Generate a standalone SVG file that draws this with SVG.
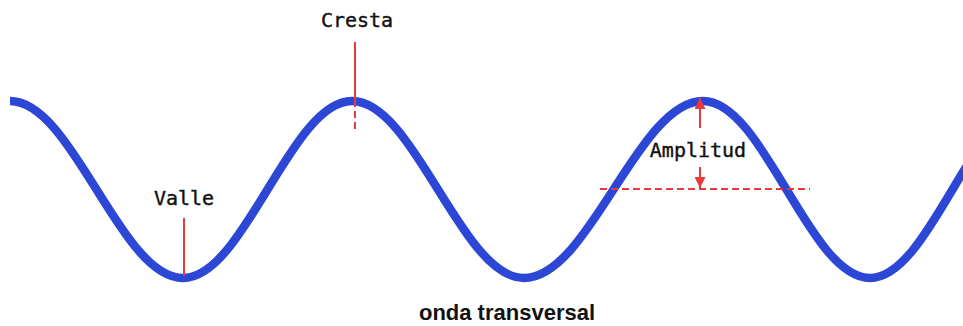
<svg xmlns="http://www.w3.org/2000/svg" width="963" height="326" viewBox="0 0 963 326">
<style>
.lbl{font-family:"DejaVu Sans Mono","Liberation Mono",monospace;font-size:20px;fill:#111;stroke:#111;stroke-width:0.4;text-anchor:middle}
.red{stroke:#e83a3a;stroke-width:2;fill:none}
.dash{stroke-dasharray:7 4}
.title{font-family:"Liberation Sans",Arial,sans-serif;font-weight:bold;font-size:22px;fill:#111;text-anchor:middle}
</style>
<defs>
<marker id="ah" viewBox="0 0 10 10" refX="10" refY="5" markerWidth="6" markerHeight="5.5" orient="auto-start-reverse" markerUnits="strokeWidth">
<path d="M0,0 L10,5 L0,10 z" fill="#e83a3a"/>
</marker>
</defs>
<rect width="963" height="326" fill="#fff"/>
<g id="wave">
<path d="M10,101 C72.9,101 120.1,278 183,278 C244.4,278 290.6,101 352,101 C414.5,101 461.5,278 524,278 C589,278 638,101 703,101 C763.7,101 809.3,278 870,278 C930,278 975,101 1035,101" fill="none" stroke="#2c46d6" stroke-width="8.5" stroke-linejoin="round"/>
</g>
<g id="connectors">
<line class="red" x1="355" y1="42" x2="355" y2="100"/>
<line class="red dash" x1="355" y1="100" x2="355" y2="131"/>
<line class="red" x1="184" y1="218" x2="184" y2="276"/>
<line class="red dash" x1="600" y1="189" x2="810" y2="189"/>
<line class="red" x1="700" y1="128" x2="700" y2="98" marker-end="url(#ah)"/>
<line class="red" x1="700" y1="167" x2="700" y2="188" marker-end="url(#ah)"/>
</g>
<g id="cresta"><text class="lbl" x="357" y="27">Cresta</text></g>
<g id="valle"><text class="lbl" x="184" y="205">Valle</text></g>
<g id="amplitud"><text class="lbl" x="698" y="157">Amplitud</text></g>
<g id="titulo"><text class="title" x="507" y="320">onda transversal</text></g>
</svg>
